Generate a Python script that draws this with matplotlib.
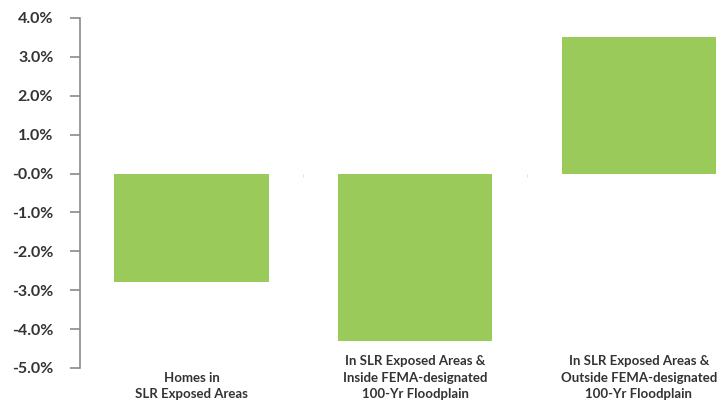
import matplotlib.pyplot as plt
from matplotlib.ticker import FuncFormatter, FixedLocator
import matplotlib.transforms as mtransforms

# change in home values by exposure group (percent)
categories = [
    "Homes in\nSLR Exposed Areas",
    "In SLR Exposed Areas &\nInside FEMA-designated\n100-Yr Floodplain",
    "In SLR Exposed Areas &\nOutside FEMA-designated\n100-Yr Floodplain",
]
values = [-2.8, -4.3, 3.5]
y_ticks = [4, 3, 2, 1, 0, -1, -2, -3, -4, -5]

plt.rcParams['font.family'] = ['Lato', 'DejaVu Sans']

fig = plt.figure(figsize=(7.25, 4.05), dpi=100)
ax = fig.add_axes([0.110, 0.0914, 0.890, 0.8642])

x = list(range(len(values)))
ax.bar(x, values, width=0.69, color="#9ACA5A", zorder=2)

ax.set_ylim(-5, 4)
ax.set_xlim(-0.5, 2.385)
ax.yaxis.set_major_locator(FixedLocator(y_ticks))
ax.yaxis.set_major_formatter(FuncFormatter(
    lambda v, _: ("-0.0%" if v == 0 else f"{v:.1f}%")))
ax.tick_params(axis="y", direction="out", length=7, width=1.2,
               color="#8a8a8a", labelcolor="#333333", labelsize=11.5, pad=12)
for lbl in ax.get_yticklabels():
    lbl.set_fontweight("bold")

# faint category separators on the zero line
ax.spines["bottom"].set_position(("data", 0))
ax.spines["bottom"].set_visible(False)
ax.set_xticks([0.5, 1.5])
ax.set_xticklabels([])
ax.tick_params(axis="x", direction="out", length=2, color="#e4e4e4")

for side in ["top", "right"]:
    ax.spines[side].set_visible(False)
ax.spines["left"].set_color("#8a8a8a")
ax.spines["left"].set_linewidth(1.2)

# category labels anchored to the bottom of the figure
trans = mtransforms.blended_transform_factory(ax.transData, fig.transFigure)
for xi, name in zip(x, categories):
    ax.text(xi, 0.012, name, transform=trans, ha="center", va="bottom",
            fontsize=9.5, fontweight="bold", color="#333333",
            linespacing=1.45)

fig.savefig("out.png", dpi=100)
